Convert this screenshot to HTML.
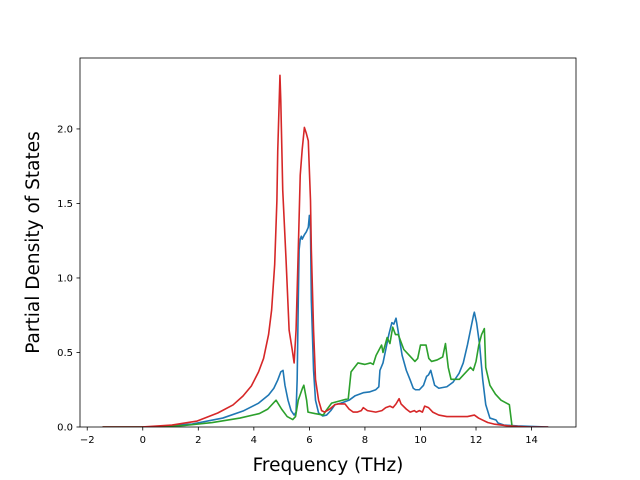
<!DOCTYPE html>
<html><head><meta charset="utf-8"><style>
body{margin:0;background:#fff}
svg{display:block;font-family:"DejaVu Sans","Liberation Sans",sans-serif}
</style></head><body>
<svg id="chart" width="640" height="480"></svg>
<script>
const xTicks=[-2,0,2,4,6,8,10,12,14];
const yTicks=[0,0.5,1.0,1.5,2.0];
const yTickLabels=["0.0","0.5","1.0","1.5","2.0"];
const redX=[-1.45,-0.06,1.05,1.96,2.7,3.25,3.61,3.91,4.17,4.35,4.53,4.64,4.75,4.83,4.86,4.94,4.97,5.04,5.16,5.27,5.38,5.45,5.52,5.6,5.67,5.74,5.82,5.89,5.96,6.04,6.07,6.15,6.22,6.33,6.44,6.55,6.73,6.92,7.06,7.28,7.43,7.58,7.72,7.87,7.94,8.09,8.39,8.61,8.75,8.9,9.01,9.12,9.23,9.3,9.49,9.63,9.78,9.85,9.96,10.07,10.15,10.29,10.44,10.66,10.95,11.69,11.94,12.09,12.2,12.42,12.64,13.16,13.89,14.6];
const redY=[0,0,0.013,0.04,0.094,0.148,0.208,0.275,0.37,0.46,0.62,0.785,1.09,1.52,1.85,2.36,2.19,1.59,1.12,0.65,0.52,0.43,0.65,1.19,1.69,1.86,2.01,1.97,1.92,1.52,1.19,0.65,0.32,0.18,0.11,0.1,0.12,0.15,0.155,0.155,0.12,0.1,0.1,0.11,0.13,0.11,0.1,0.11,0.13,0.14,0.13,0.155,0.19,0.155,0.12,0.1,0.11,0.1,0.11,0.1,0.14,0.13,0.1,0.08,0.07,0.07,0.08,0.06,0.05,0.03,0.02,0.007,0,0];
const blueX=[-1.45,0.31,1.78,2.88,3.61,4.17,4.53,4.72,4.86,4.97,5.05,5.12,5.23,5.34,5.45,5.52,5.56,5.6,5.63,5.67,5.71,5.74,5.82,5.89,5.96,6.0,6.04,6.07,6.15,6.22,6.33,6.48,6.62,6.77,6.92,7.14,7.43,7.65,7.94,8.16,8.39,8.5,8.54,8.65,8.75,8.86,8.97,9.04,9.12,9.19,9.34,9.49,9.63,9.74,9.82,9.96,10.11,10.22,10.29,10.37,10.44,10.51,10.66,10.95,11.17,11.39,11.54,11.69,11.8,11.91,11.94,12.02,12.13,12.24,12.35,12.5,12.72,12.79,13.0,13.5,14.6];
const blueY=[0,0,0.02,0.06,0.107,0.16,0.215,0.26,0.315,0.37,0.38,0.28,0.18,0.11,0.08,0.1,0.32,0.85,1.19,1.26,1.28,1.26,1.29,1.31,1.34,1.42,1.32,0.85,0.38,0.18,0.095,0.074,0.08,0.11,0.15,0.16,0.18,0.21,0.23,0.235,0.25,0.27,0.38,0.43,0.52,0.62,0.7,0.69,0.73,0.65,0.48,0.38,0.315,0.26,0.25,0.25,0.28,0.34,0.35,0.38,0.33,0.28,0.26,0.27,0.3,0.36,0.43,0.55,0.65,0.75,0.77,0.7,0.55,0.32,0.15,0.06,0.047,0.027,0.013,0.007,0];
const greenX=[-1.45,0.5,1.5,2.5,3.5,4.2,4.5,4.8,5.0,5.2,5.4,5.5,5.6,5.75,5.8,5.9,5.95,6.2,6.5,6.6,6.8,7.0,7.4,7.5,7.75,8.0,8.2,8.3,8.4,8.6,8.65,8.8,8.9,9.0,9.1,9.2,9.4,9.6,9.8,9.9,10.0,10.2,10.3,10.4,10.6,10.8,10.9,11.0,11.1,11.4,11.6,11.8,11.9,12.0,12.1,12.2,12.3,12.35,12.5,12.7,12.9,13.1,13.2,13.3];
const greenY=[0,0,0.01,0.03,0.06,0.09,0.12,0.18,0.12,0.07,0.05,0.07,0.18,0.26,0.28,0.18,0.1,0.09,0.08,0.11,0.16,0.17,0.19,0.37,0.43,0.42,0.43,0.42,0.48,0.55,0.5,0.6,0.56,0.67,0.62,0.62,0.52,0.48,0.44,0.46,0.55,0.55,0.46,0.44,0.45,0.47,0.56,0.4,0.32,0.32,0.36,0.4,0.38,0.44,0.55,0.62,0.66,0.4,0.28,0.22,0.18,0.16,0.15,0];
const L=80,R=576,T=58,B=427,XMIN=-2.26,XMAX=15.6,YMIN=0,YMAX=2.476;
const sx=v=>L+(v-XMIN)/(XMAX-XMIN)*(R-L);
const sy=v=>B-(v-YMIN)/(YMAX-YMIN)*(B-T);
const svg=document.getElementById('chart');
const NS='http://www.w3.org/2000/svg';
function mk(tag,attrs,parent){const e=document.createElementNS(NS,tag);for(const k in attrs)e.setAttribute(k,attrs[k]);(parent||svg).appendChild(e);return e;}
const clip=mk('clipPath',{id:'cp'});mk('rect',{x:L,y:T,width:R-L,height:B-T},clip);
function series(xs,ys,color,name){
  const p=mk('polyline',{points:xs.map((x,i)=>sx(x).toFixed(2)+','+sy(ys[i]).toFixed(2)).join(' '),fill:'none',stroke:color,'stroke-width':1.6,'stroke-linejoin':'round','clip-path':'url(#cp)'});
  
  
}
series(blueX,blueY,'#1f77b4','series-blue');
series(greenX,greenY,'#2ca02c','series-green');
series(redX,redY,'#d62728','series-red');
const frame=mk('rect',{x:L,y:T,width:R-L,height:B-T,fill:'none',stroke:'#000','stroke-width':0.8});


xTicks.forEach(t=>{
  const x=sx(t);
  mk('line',{x1:x,x2:x,y1:B,y2:B+3.5,stroke:'#000','stroke-width':0.8});
  const tx=mk('text',{x:x,y:B+16,'font-size':10,'text-anchor':'middle'});
  tx.textContent=(t<0?'\u2212'+(-t):String(t));
  
  
});
yTicks.forEach((t,i)=>{
  const y=sy(t);
  mk('line',{x1:L-3.5,x2:L,y1:y,y2:y,stroke:'#000','stroke-width':0.8});
  const tx=mk('text',{x:L-7,y:y+3.6,'font-size':10,'text-anchor':'end'});
  tx.textContent=yTickLabels[i];
  
  
});
const xl=mk('text',{x:(L+R)/2,y:471,'font-size':18.5,'text-anchor':'middle'});
xl.textContent='Frequency (THz)';


const yl=mk('text',{x:0,y:0,'font-size':18.5,'text-anchor':'middle',transform:'translate(39,'+((T+B)/2)+') rotate(-90)'});
yl.textContent='Partial Density of States';


</script>
</body></html>
